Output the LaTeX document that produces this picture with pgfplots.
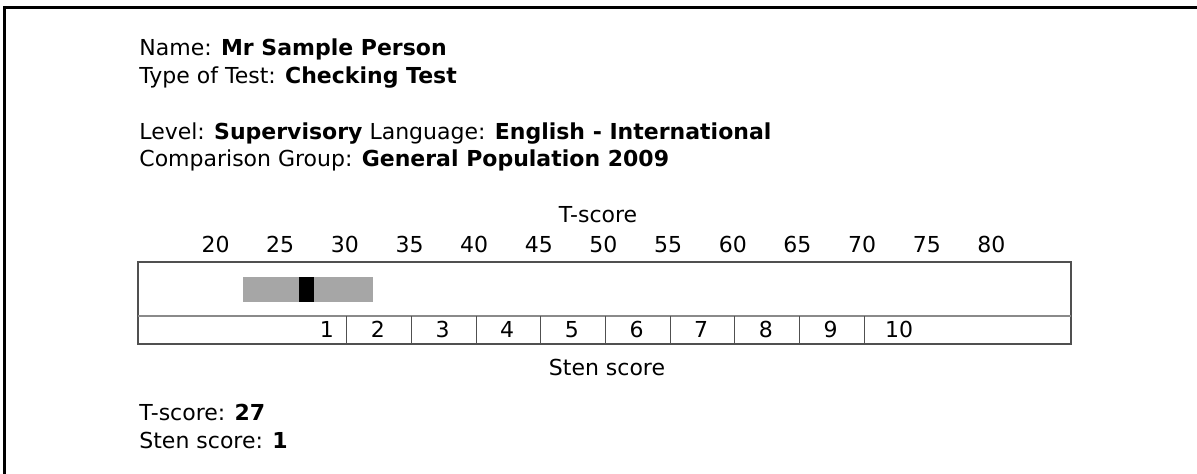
\documentclass[border=0pt]{standalone}
\usepackage{fontspec}
\setmainfont{DejaVu Sans}
\usepackage{pgfplots}
\pgfplotsset{compat=1.18}
\definecolor{bandgrey}{HTML}{A6A6A6}
\definecolor{boxline}{HTML}{505050}
\definecolor{midline}{HTML}{8A8A8A}
\begin{document}
\begin{tikzpicture}[x=1pt,y=1pt,font=\fontsize{11pt}{13pt}\selectfont]
\useasboundingbox (0,0) rectangle (598.5,237);
\fill[white] (0,0) rectangle (598.5,237);
% page frame (top and left edges)
\draw[line width=1.5pt,line join=miter] (2.25,0) -- (2.25,233.25) -- (598.5,233.25);
% header
\node[anchor=base west,inner sep=0pt] at (69.5,209) {Name: \textbf{Mr Sample Person}};
\node[anchor=base west,inner sep=0pt] at (69.5,195) {Type of Test: \textbf{Checking Test}};
\node[anchor=base west,inner sep=0pt] at (69.5,167) {Level: \textbf{Supervisory} Language: \textbf{English - International}};
\node[anchor=base west,inner sep=0pt] at (69.5,153.5) {Comparison Group: \textbf{General Population 2009}};
% axis titles
\node[anchor=base,inner sep=0pt] at (299,125.5) {T-score};
\node[anchor=base,inner sep=0pt] at (303.5,49) {Sten score};
% footer
\node[anchor=base west,inner sep=0pt] at (69.5,26.5) {T-score: \textbf{27}};
\node[anchor=base west,inner sep=0pt] at (69.5,12.5) {Sten score: \textbf{1}};
\begin{axis}[
  at={(69pt,65pt)}, anchor=south west,
  width=466.5pt, height=41pt, scale only axis,
  xmin=13.85, xmax=86, ymin=0, ymax=82,
  xtick={20,25,...,80}, ytick=\empty,
  xticklabel pos=upper,
  major tick length=0pt,
  /pgf/number format/assume math mode=true,
  xticklabel style={anchor=base, yshift=4.5pt, xshift=-1pt, inner sep=0pt, font=\fontsize{11pt}{13pt}\selectfont},
  axis line style={boxline, line width=0.65pt},
  clip=false,
]
% T-score confidence band and score marker
\addplot[fill=bandgrey, draw=none] coordinates {(22,42) (32,42) (32,67) (22,67)} -- cycle;
\addplot[fill=black, draw=none] coordinates {(26.3,42) (27.45,42) (27.45,67) (26.3,67)} -- cycle;
% sten row separator
\addplot[midline, line width=0.65pt, no marks] coordinates {(13.85,28) (86,28)};
% sten dividers
\addplot[ycomb, boxline, line width=0.6pt, no marks] coordinates {(30,28) (35,28) (40,28) (45,28) (50,28) (55,28) (60,28) (65,28) (70,28)};
% sten labels
\node[anchor=base,inner sep=0pt] at (axis cs:28.45,6) {1};
\node[anchor=base,inner sep=0pt] at (axis cs:32.4,6) {2};
\node[anchor=base,inner sep=0pt] at (axis cs:37.4,6) {3};
\node[anchor=base,inner sep=0pt] at (axis cs:42.4,6) {4};
\node[anchor=base,inner sep=0pt] at (axis cs:47.4,6) {5};
\node[anchor=base,inner sep=0pt] at (axis cs:52.4,6) {6};
\node[anchor=base,inner sep=0pt] at (axis cs:57.4,6) {7};
\node[anchor=base,inner sep=0pt] at (axis cs:62.4,6) {8};
\node[anchor=base,inner sep=0pt] at (axis cs:67.4,6) {9};
\node[anchor=base,inner sep=0pt] at (axis cs:72.7,6) {10};
\end{axis}
\end{tikzpicture}
\end{document}
